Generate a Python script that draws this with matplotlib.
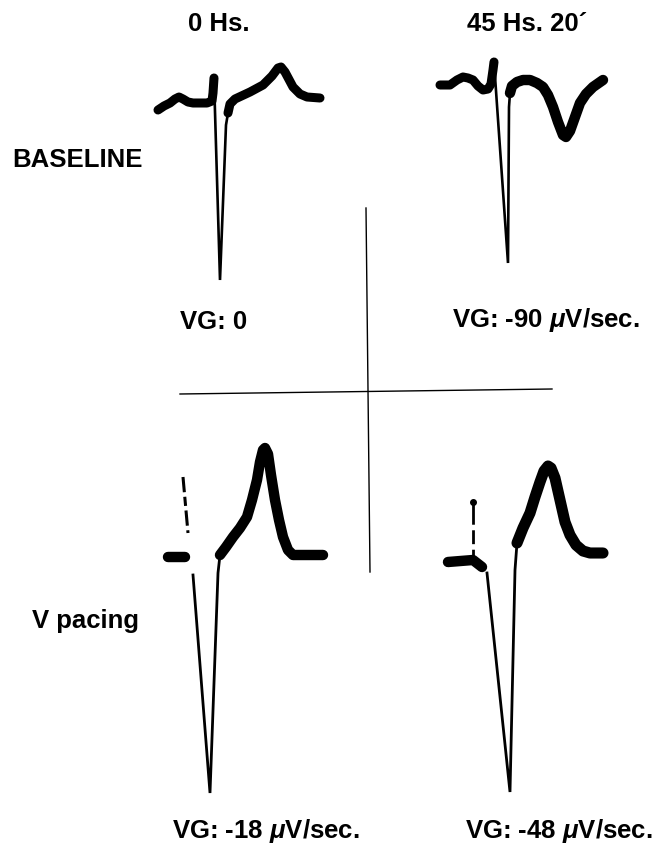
import matplotlib
matplotlib.use("Agg")
from matplotlib import pyplot as plt
import numpy as np

plt.rcParams['font.family'] = ['Liberation Sans', 'DejaVu Sans']
plt.rcParams['mathtext.fontset'] = 'custom'
plt.rcParams['mathtext.rm'] = 'Liberation Sans:bold'
plt.rcParams['mathtext.it'] = 'Liberation Sans:italic:bold'

# --- data: traces in ms / mV ---
# top left: baseline, 0 Hs
base0_pre_t = [0, 24, 48, 68, 84, 100, 120, 140, 196, 216, 220, 224]
base0_pre_v = [-0.14, -0.06, 0, 0.08, 0.12, 0.08, 0.02, 0, 0, 0.04, 0.20, 0.50]
base0_qrs_t = [224, 248, 272, 280]
base0_qrs_v = [0.50, -3.54, -0.44, -0.20]
base0_st_t = [280, 288, 308, 368, 420, 456, 480, 492, 508, 540, 568, 596, 648]
base0_st_v = [-0.20, -0.02, 0.08, 0.22, 0.36, 0.54, 0.70, 0.72, 0.62, 0.32, 0.18, 0.12, 0.10]

# top right: baseline, 45 Hs 20'
base45_pre_t = [0, 40, 68, 92, 112, 132, 152, 172, 192, 204, 212, 216]
base45_pre_v = [0, 0, 0.10, 0.16, 0.14, 0.10, -0.02, -0.10, -0.08, 0.02, 0.30, 0.46]
base45_qrs_t = [216, 272, 276, 280]
base45_qrs_v = [0.46, -3.56, -0.44, -0.16]
base45_st_t = [280, 288, 308, 332, 360, 388, 412, 432, 452, 472, 492, 504,
               520, 540, 560, 584, 612, 652]
base45_st_v = [-0.16, -0.02, 0.06, 0.10, 0.10, 0.04, -0.04, -0.20, -0.44, -0.74, -1.00, -1.04,
               -0.92, -0.64, -0.36, -0.18, -0.04, 0.10]

# bottom left: V pacing, 0 Hs
pace0_pre_t = [0, 68]
pace0_pre_v = [0, 0]
pace0_spike_t = [60, 80]
pace0_spike_v = [1.60, 0.48]
pace0_qrs_t = [100, 168, 200, 208]
pace0_qrs_v = [-0.36, -4.72, -0.32, 0.04]
pace0_st_t = [208, 232, 260, 288, 316, 336, 356, 368, 380, 388, 400, 412,
              428, 444, 460, 480, 500, 620]
pace0_st_v = [0.04, 0.20, 0.40, 0.58, 0.80, 1.14, 1.54, 1.90, 2.14, 2.18, 2.06, 1.64,
              1.14, 0.74, 0.40, 0.14, 0.04, 0.04]

# bottom right: V pacing, 45 Hs 20'
pace45_pre_t = [0, 100, 136]
pace45_pre_v = [0, 0.04, -0.10]
pace45_spike_t = [100, 100]
pace45_spike_v = [1.20, 0.10]
pace45_qrs_t = [156, 248, 268, 276]
pace45_qrs_v = [-0.22, -4.60, -0.16, 0.38]
pace45_st_t = [276, 300, 328, 348, 368, 384, 400, 412, 428, 448, 468, 488,
               512, 540, 568, 620]
pace45_st_v = [0.38, 0.68, 0.98, 1.30, 1.60, 1.82, 1.92, 1.88, 1.68, 1.24, 0.80, 0.54,
               0.34, 0.22, 0.18, 0.18]

col_titles = ['0 Hs.', '45 Hs. 20´']
row_titles = ['BASELINE', 'V pacing']
vg_labels = ['VG: 0', r'VG: -90 $\mu$V/sec.', r'VG: -18 $\mu$V/sec.', r'VG: -48 $\mu$V/sec.']

W, H = 655, 846
fig = plt.figure(figsize=(W / 100, H / 100), dpi=100)

# background axes in pixel units for labels and the cross
bg = fig.add_axes([0, 0, 1, 1])
bg.set_xlim(0, W)
bg.set_ylim(H, 0)
bg.axis('off')

MS_PX, MV_PX = 4.0, 0.02


def panel(ox, oy):
    # axes whose data origin sits at pixel (ox, oy)
    left, right, up, down = 30, 200, 130, 260
    ax = fig.add_axes([(ox - left) / W, 1 - (oy + down) / H,
                       (left + right) / W, (up + down) / H])
    ax.set_xlim(-left * MS_PX, right * MS_PX)
    ax.set_ylim(-down * MV_PX, up * MV_PX)
    ax.axis('off')
    ax.patch.set_alpha(0)
    return ax


def thick(ax, t, v, lw=7.0):
    ax.plot(t, v, color='black', lw=lw, solid_capstyle='round',
            solid_joinstyle='round', clip_on=False)


def thin(ax, t, v, lw=1.9):
    ax.plot(t, v, color='black', lw=lw, solid_joinstyle='miter', clip_on=False)


ax1 = panel(158, 103)
thick(ax1, base0_pre_t, base0_pre_v, 6.5)
thin(ax1, base0_qrs_t, base0_qrs_v)
thick(ax1, base0_st_t, base0_st_v, 6.5)

ax2 = panel(440, 85)
thick(ax2, base45_pre_t, base45_pre_v, 6.5)
thin(ax2, base45_qrs_t, base45_qrs_v)
thick(ax2, base45_st_t, base45_st_v, 7.5)

ax3 = panel(168, 557)
thick(ax3, pace0_pre_t, pace0_pre_v, 7.5)
ax3.plot(pace0_spike_t, pace0_spike_v, color='black', lw=2.2,
         dashes=(5, 1.5, 3, 1.5), clip_on=False)
thin(ax3, pace0_qrs_t, pace0_qrs_v, 2.0)
thick(ax3, pace0_st_t, pace0_st_v, 7.5)

ax4 = panel(448, 562)
thick(ax4, pace45_pre_t, pace45_pre_v, 7.5)
ax4.plot(pace45_spike_t, pace45_spike_v, color='black', lw=2.0,
         dashes=(8, 2, 5, 2), clip_on=False)
ax4.plot(pace45_spike_t[:1], pace45_spike_v[:1], 'o', color='black', ms=4, clip_on=False)
thin(ax4, pace45_qrs_t, pace45_qrs_v, 2.0)
thick(ax4, pace45_st_t, pace45_st_v, 8.0)

# dividing cross
bg.plot([366, 370], [208, 572], color='black', lw=1.0)
bg.plot([180, 552], [394, 389], color='black', lw=1.0)

fs = 18.5
bg.text(219, 24, col_titles[0], ha='center', va='center', fontsize=fs, fontweight='bold')
bg.text(527, 24, col_titles[1], ha='center', va='center', fontsize=fs, fontweight='bold')
bg.text(12, 160, row_titles[0], ha='left', va='center', fontsize=fs, fontweight='bold')
bg.text(32, 621, row_titles[1], ha='left', va='center', fontsize=fs, fontweight='bold')

bg.text(180, 322, vg_labels[0], ha='left', va='center', fontsize=fs, fontweight='bold')
bg.text(452, 320, vg_labels[1], ha='left', va='center', fontsize=fs, fontweight='bold')
bg.text(172, 831, vg_labels[2], ha='left', va='center', fontsize=fs, fontweight='bold')
bg.text(465, 831, vg_labels[3], ha='left', va='center', fontsize=fs, fontweight='bold')

fig.savefig('out.png', dpi=100, facecolor='white')
